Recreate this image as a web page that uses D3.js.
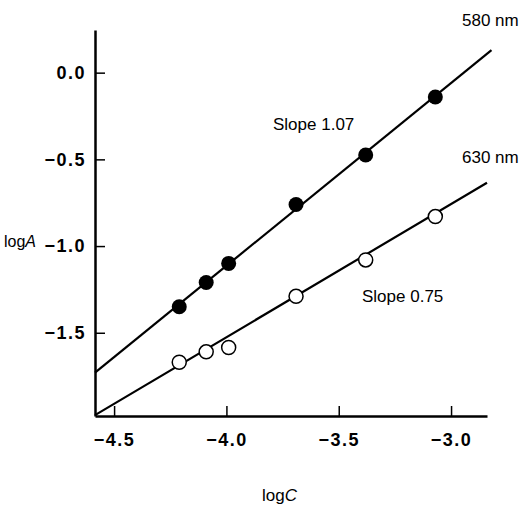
<!DOCTYPE html>
<html><head><meta charset="utf-8">
<script src="https://cdn.jsdelivr.net/npm/d3@7"></script>
<style>
body{margin:0;background:#fff;}
text{font-family:"Liberation Sans",Arial,sans-serif;fill:#000;}
</style></head>
<body><svg id="c" width="525" height="507"></svg>
<script>
const logC580 = [-4.21, -4.09, -3.99, -3.69, -3.38, -3.07];
const logA580 = [-1.35, -1.21, -1.10, -0.76, -0.475, -0.14];
const logC630 = [-4.21, -4.09, -3.99, -3.69, -3.38, -3.07];
const logA630 = [-1.67, -1.61, -1.585, -1.29, -1.08, -0.83];
const fit580 = [[-4.585, -1.73], [-2.82, 0.13]];
const fit630 = [[-4.585, -1.975], [-2.84, -0.635]];
const xTicks = [-4.5, -4.0, -3.5, -3.0];
const yTicks = [0.0, -0.5, -1.0, -1.5];

const svg = d3.select("#c");
const x = d3.scaleLinear().domain([-4.585, -2.84]).range([95, 487]);
const y = d3.scaleLinear().domain([-1.98, 0.246]).range([416, 30]);
const fmt = d3.format(".1f");

const xAxis = svg.append("g").attr("transform","translate(0,416)")
  .call(d3.axisBottom(x).tickValues(xTicks).tickFormat(fmt).tickSizeInner(-10).tickSizeOuter(0).tickPadding(17));
const yAxis = svg.append("g").attr("transform","translate(95,0)")
  .call(d3.axisLeft(y).tickValues(yTicks).tickFormat(fmt).tickSizeInner(-10).tickSizeOuter(0).tickPadding(9));
[xAxis,yAxis].forEach(a=>{
  a.selectAll("path.domain").attr("stroke","#000").attr("stroke-width",2.5);
  a.selectAll(".tick line").attr("stroke","#000").attr("stroke-width",1.5);
  a.selectAll(".tick text").style("font-size","18px").style("font-weight","bold").style("letter-spacing","1.5px").attr("fill","#000");
});

const line = d3.line().x(d=>x(d[0])).y(d=>y(d[1]));
svg.append("path").datum(fit580).attr("d",line).attr("stroke","#000").attr("stroke-width",2.2).attr("fill","none");
svg.append("path").datum(fit630).attr("d",line).attr("stroke","#000").attr("stroke-width",2.2).attr("fill","none");

svg.selectAll("circle.f").data(logC580.map((c,i)=>[c,logA580[i]])).enter().append("circle")
  .attr("cx",d=>x(d[0])).attr("cy",d=>y(d[1])).attr("r",7.5).attr("fill","#000");
svg.selectAll("circle.o").data(logC630.map((c,i)=>[c,logA630[i]])).enter().append("circle")
  .attr("cx",d=>x(d[0])).attr("cy",d=>y(d[1])).attr("r",7).attr("fill","#fff").attr("stroke","#000").attr("stroke-width",1.5);

const lab = (t,px,py,anchor)=>svg.append("text").attr("x",px).attr("y",py).attr("text-anchor",anchor||"start")
  .style("font-size","17px").text(t);
lab("580 nm",462,26);
lab("630 nm",462,163);
lab("Slope 1.07",273,130);
lab("Slope 0.75",362,302);

const yl = svg.append("text").attr("x",4).attr("y",247).style("font-size","16px");
yl.append("tspan").text("log");
yl.append("tspan").style("font-style","italic").text("A");
const xl = svg.append("text").attr("x",262).attr("y",501).style("font-size","17px");
xl.append("tspan").text("log");
xl.append("tspan").style("font-style","italic").text("C");
</script></body></html>
